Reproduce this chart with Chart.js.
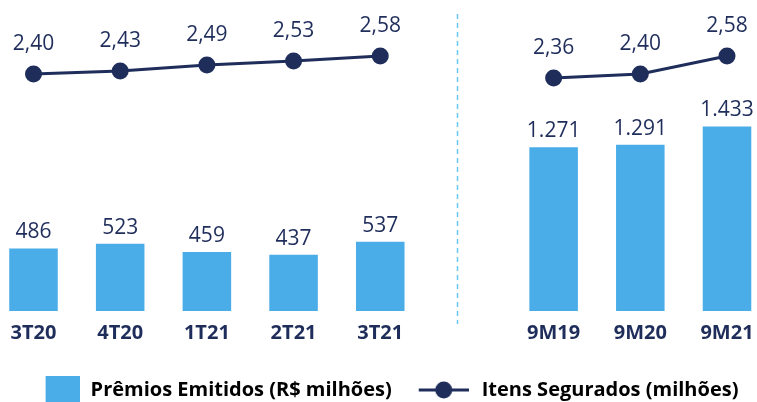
<!DOCTYPE html>
<html><head><meta charset="utf-8">
<script src="https://cdn.jsdelivr.net/npm/chart.js@4"></script>
<style>html,body{margin:0;padding:0;background:#fff}#wrap{width:757px;height:402px;position:relative}</style>
</head><body><div id="wrap"><canvas id="c"></canvas></div>
<script>
const categories = ['3T20','4T20','1T21','2T21','3T21','','9M19','9M20','9M21'];
const premiosEmitidos = [486,523,459,437,537,null,1271,1291,1433];
const itensSegurados = [2.40,2.43,2.49,2.53,2.58,null,2.36,2.40,2.58];
const tickPositions = [0,1,2,3,4,6,7,8];
const seriesNames = ['Prêmios Emitidos (R$ milhões)','Itens Segurados (milhões)'];

const NAVY='#1F2D5B', BLUE='#4BADE8', SEP='#6CC6EF';
const FONT="'Open Sans'";

function fmtInt(v){ return String(v).replace(/\B(?=(\d{3})+(?!\d))/g,'.'); }
function fmtDec(v){ return v.toFixed(2).replace('.',','); }

function swatch(){ const c=document.createElement('canvas'); c.width=60; c.height=28; const x=c.getContext('2d'); x.fillStyle=BLUE; x.fillRect(26,0,34,28); return c; }
function lineMarker(){ const c=document.createElement('canvas'); c.width=56; c.height=20; const x=c.getContext('2d'); x.strokeStyle=NAVY; x.lineWidth=3; x.beginPath(); x.moveTo(6,10); x.lineTo(56,10); x.stroke(); x.fillStyle=NAVY; x.beginPath(); x.arc(31,10,8.5,0,Math.PI*2); x.fill(); return c; }
const swatchImg = swatch(), lineImg = lineMarker();

const barData = categories.map((c,i)=>({x:i,y:premiosEmitidos[i]})).filter(d=>d.y!=null);
const lineData = categories.map((c,i)=>({x:i,y:itensSegurados[i]}));

const decorPlugin = {
  id:'decor',
  beforeDatasetsDraw(chart){
    const ctx=chart.ctx, xs=chart.scales.x, a=chart.chartArea;
    const x=Math.round(xs.getPixelForValue(4.88))+0.5;
    ctx.save();
    ctx.strokeStyle=SEP; ctx.lineWidth=1.5; ctx.setLineDash([5,4]);
    ctx.beginPath(); ctx.moveTo(x,a.top+14); ctx.lineTo(x,a.bottom+13); ctx.stroke();
    ctx.restore();
  },
  afterDatasetsDraw(chart){
    const ctx=chart.ctx;
    ctx.save();
    ctx.fillStyle=NAVY; ctx.textAlign='center'; ctx.textBaseline='alphabetic';
    ctx.font=`21px ${FONT}`;
    const bd=chart.data.datasets[0].data;
    chart.getDatasetMeta(0).data.forEach((el,i)=>{ ctx.fillText(fmtInt(bd[i].y), el.x, el.y-10); });
    const ld=chart.data.datasets[1].data;
    chart.getDatasetMeta(1).data.forEach((el,i)=>{ const v=ld[i].y; if(v==null) return; ctx.fillText(fmtDec(v), el.x, el.y-24); });
    ctx.restore();
  }
};

new Chart(document.getElementById('c'), {
  type:'bar',
  data:{datasets:[
    {type:'bar', label:seriesNames[0], data:barData, yAxisID:'y', backgroundColor:BLUE, borderWidth:0, barPercentage:0.56, categoryPercentage:1},
    {type:'line', label:seriesNames[1], data:lineData, yAxisID:'y2', borderColor:NAVY, backgroundColor:NAVY, borderWidth:3, pointRadius:8.5, pointHoverRadius:8.5, pointBorderWidth:0, pointBackgroundColor:NAVY, spanGaps:false, tension:0}
  ]},
  options:{
    responsive:true, maintainAspectRatio:false, animation:false,
    layout:{autoPadding:false, padding:{top:0,left:0,right:0,bottom:-8}},
    scales:{
      x:{type:'linear', min:-0.3864, max:8.346, offset:false,
        grid:{display:false, drawTicks:false}, border:{display:false},
        afterBuildTicks:(s)=>{ s.ticks = tickPositions.map(v=>({value:v})); },
        afterFit:(s)=>{ s.paddingLeft=0; s.paddingRight=0; s.height=51; },
        ticks:{autoSkip:false, maxRotation:0, padding:10, color:NAVY, font:{family:FONT,size:20,weight:'bold'}, callback:(v)=>categories[v]}},
      y:{display:false, min:0, max:2415},
      y2:{display:false, min:0.03, max:3.14, position:'right'}
    },
    plugins:{
      tooltip:{enabled:false},
      legend:{position:'bottom', labels:{usePointStyle:true, pointStyleWidth:62, boxHeight:20, padding:18, color:NAVY,
        font:{family:FONT,size:20,weight:'bold'},
        generateLabels:()=>[
          {text:seriesNames[0], pointStyle:swatchImg, fillStyle:BLUE, strokeStyle:BLUE, lineWidth:0, hidden:false, datasetIndex:0},
          {text:seriesNames[1], pointStyle:lineImg, fillStyle:NAVY, strokeStyle:NAVY, lineWidth:0, hidden:false, datasetIndex:1}
        ]}}
    }
  },
  plugins:[decorPlugin]
});
</script></body></html>
